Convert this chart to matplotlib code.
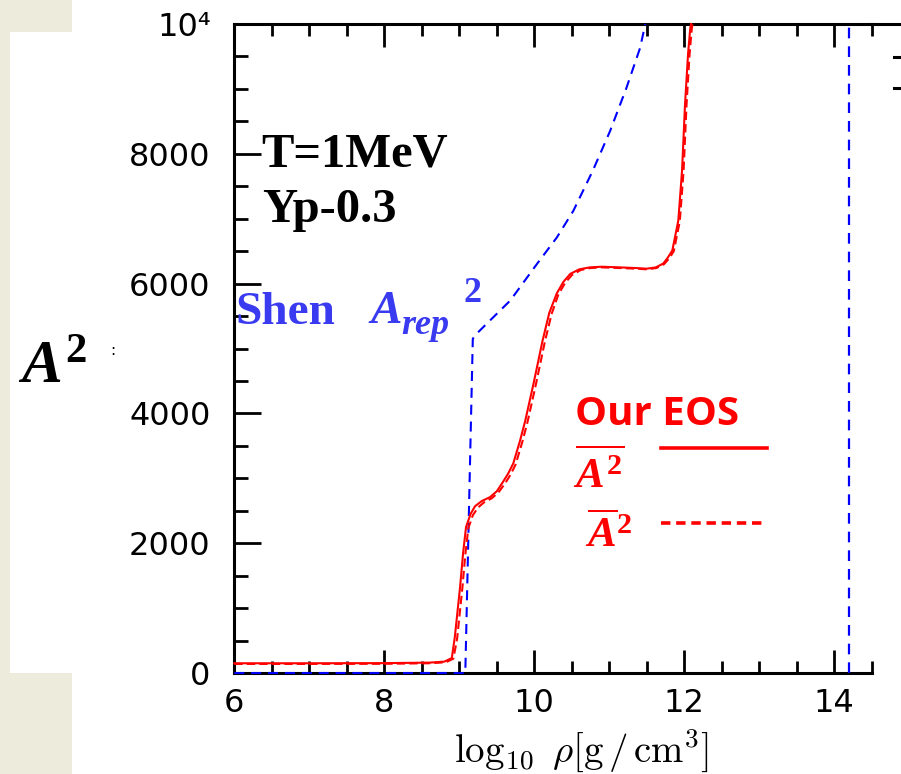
import matplotlib.pyplot as plt
from matplotlib.ticker import MultipleLocator
from matplotlib.patches import Rectangle
from matplotlib.lines import Line2D

plt.rcParams['mathtext.fontset'] = 'custom'
plt.rcParams['mathtext.it'] = 'Liberation Serif:italic:bold'
plt.rcParams['mathtext.rm'] = 'Liberation Serif:bold'
plt.rcParams['mathtext.bf'] = 'Liberation Serif:bold'

# our EOS, mean A^2 (solid) and mean A squared (dashed)
rho_abar2 = [6.0, 7.0, 8.0, 8.6, 8.8, 8.9, 8.94, 9.01, 9.05, 9.09, 9.15, 9.21, 9.3,
             9.41, 9.5, 9.58, 9.65, 9.72, 9.81, 9.88, 9.99, 10.11, 10.2, 10.3, 10.39,
             10.48, 10.6, 10.74, 10.9, 11.14, 11.35, 11.5, 11.62, 11.72, 11.78, 11.84,
             11.92, 11.97, 12.01, 12.05, 12.08, 12.09]
a2_bar = [150, 150, 152, 160, 175, 230, 550, 1320, 1840, 2250, 2450, 2570, 2650,
          2710, 2800, 2940, 3070, 3230, 3580, 3890, 4460, 5120, 5550, 5850, 6030,
          6150, 6220, 6250, 6260, 6250, 6240, 6230, 6250, 6310, 6400, 6510,
          6970, 7740, 8770, 9540, 9940, 10000]

rho_abar_sq = [6.0, 7.0, 8.0, 8.6, 8.82, 8.92, 8.97, 9.04, 9.08, 9.12, 9.18, 9.25, 9.33,
               9.43, 9.52, 9.61, 9.68, 9.75, 9.84, 9.91, 10.02, 10.14, 10.23, 10.32, 10.41,
               10.5, 10.62, 10.75, 10.9, 11.14, 11.35, 11.5, 11.63, 11.73, 11.8, 11.86,
               11.94, 11.99, 12.03, 12.07, 12.1, 12.11]
abar_sq = [140, 140, 142, 150, 165, 220, 520, 1300, 1820, 2230, 2430, 2550, 2630,
           2690, 2780, 2920, 3050, 3210, 3560, 3870, 4440, 5100, 5530, 5830, 6010,
           6130, 6210, 6240, 6250, 6240, 6230, 6220, 6240, 6300, 6390, 6500,
           6960, 7730, 8760, 9530, 9930, 10000]

# Shen EOS, representative nucleus A_rep^2
rho_shen = [6.0, 9.08, 9.18, 9.25, 9.68, 10.04, 10.30, 10.52, 10.78, 11.01, 11.23, 11.41, 11.48]
a2_shen = [0, 0, 5150, 5250, 5740, 6310, 6710, 7120, 7740, 8350, 9020, 9630, 10000]
rho_shen_hi = [14.2, 14.2]
a2_shen_hi = [0, 10000]

yticks = [0, 2000, 4000, 6000, 8000, 10000]
ytick_labels = ['0', '2000', '4000', '6000', '8000', '10⁴']
xticks = [6, 8, 10, 12, 14]

W, H = 901, 774
fig = plt.figure(figsize=(W / 100, H / 100), dpi=100)
fig.patch.set_facecolor('white')

# slide background strip on the left
beige = '#ecebdc'
fig.patches.append(Rectangle((0, 0), 72 / W, 1, transform=fig.transFigure,
                             facecolor=beige, edgecolor='none', zorder=0))
fig.patches.append(Rectangle((10 / W, 1 - 673 / H), 90 / W, (673 - 32) / H,
                             transform=fig.transFigure, facecolor='white',
                             edgecolor='none', zorder=0))

ax = fig.add_axes([234.3 / W, 1 - 673 / H, (871.8 - 234.3) / W, (673 - 24) / H])
ax.set_xlim(6, 14.5)
ax.set_ylim(0, 10000)

blue = '#0000ff'
red = '#ff0000'
ax.plot(rho_shen, a2_shen, color=blue, lw=1.5, ls=(0, (4.8, 3.3)), clip_on=False, zorder=3)
ax.plot(rho_shen_hi, a2_shen_hi, color=blue, lw=1.6, ls=(0, (4.8, 3.6)), clip_on=False, zorder=3)
ax.plot(rho_abar_sq, abar_sq, color=red, lw=1.5, ls=(0, (4, 2)), clip_on=False, zorder=4)
ax.plot(rho_abar2, a2_bar, color=red, lw=1.5, clip_on=False, zorder=4)

for s in ax.spines.values():
    s.set_linewidth(2.2)
ax.spines['right'].set_visible(False)

ax.set_xticks(xticks)
ax.set_xticklabels([str(v) for v in xticks])
ax.set_yticks(yticks)
ax.set_yticklabels(ytick_labels)
ax.xaxis.set_minor_locator(MultipleLocator(0.5))
ax.yaxis.set_minor_locator(MultipleLocator(500))
ax.tick_params(axis='x', which='major', direction='in', length=16.5, width=2, top=True,
               bottom=True, pad=11, labelsize=23)
ax.tick_params(axis='x', which='minor', direction='in', length=8.5, width=2, top=True, bottom=True)
ax.tick_params(axis='y', which='major', direction='in', length=19.5, width=2, left=True,
               right=False, pad=17, labelsize=23)
ax.tick_params(axis='y', which='minor', direction='in', length=10, width=2, left=True, right=False)

# annotations inside the frame
ax.text(0.043, 0.780, 'T=1MeV', transform=ax.transAxes, fontsize=35, fontweight='bold',
        family='Liberation Serif', va='baseline', ha='left')
ax.text(0.043, 0.695, 'Yp-0.3', transform=ax.transAxes, fontsize=35, fontweight='bold',
        family='Liberation Serif', va='baseline', ha='left')
shen_col = '#3a3af0'
ax.text(0.001, 0.538, 'Shen', transform=ax.transAxes, fontsize=34, fontweight='bold',
        family='Liberation Serif', color=shen_col, va='baseline', ha='left')
ax.text(0.210, 0.539, r'$A$', transform=ax.transAxes, fontsize=34,
        color=shen_col, va='baseline', ha='left')
ax.text(0.262, 0.523, 'rep', transform=ax.transAxes, fontsize=26, fontweight='bold',
        fontstyle='italic', family='Liberation Serif', color=shen_col,
        va='baseline', ha='left')
ax.text(0.360, 0.572, '2', transform=ax.transAxes, fontsize=26, fontweight='bold',
        family='Liberation Serif', color=shen_col, va='baseline', ha='left')

ax.text(0.534, 0.382, 'Our EOS', transform=ax.transAxes, fontsize=29, fontweight='bold',
        family='Open Sans', color=red, va='baseline', ha='left')
ax.text(0.531, 0.285, r'$\overline{A^2}$', transform=ax.transAxes, fontsize=31,
        color=red, va='baseline', ha='left')
ax.text(0.550, 0.194, r'$\overline{A}^2$', transform=ax.transAxes, fontsize=31,
        color=red, va='baseline', ha='left')
ax.plot([0.669, 0.836], [0.347, 0.347], transform=ax.transAxes, color=red, lw=2.6,
        clip_on=False)
ax.plot([0.669, 0.836], [0.231, 0.231], transform=ax.transAxes, color=red, lw=2.6,
        ls=(0, (2.6, 1.6)), clip_on=False)

# axis titles
fig.text(18 / W, 1 - 383 / H, r'$A^2$', fontsize=44, va='baseline', ha='left')
fig.text(110 / W, 1 - 355 / H, ':', fontsize=11, va='baseline', ha='left')
fig.text(581 / W, 1 - 750 / H, r'$\log_{10}\ \rho[\mathrm{g\,/\,cm}^3]$', fontsize=28,
         math_fontfamily='cm', va='center', ha='center')

# frame pieces continuing past the axes on the right
fig.lines.append(Line2D([871 / W, 1], [1 - 24 / H, 1 - 24 / H], transform=fig.transFigure,
                        color='black', lw=2.2))
for yy in (57, 88):
    fig.lines.append(Line2D([894 / W, 1], [1 - yy / H, 1 - yy / H], transform=fig.transFigure,
                            color='black', lw=2.2))

fig.savefig('out.png', dpi=100)
